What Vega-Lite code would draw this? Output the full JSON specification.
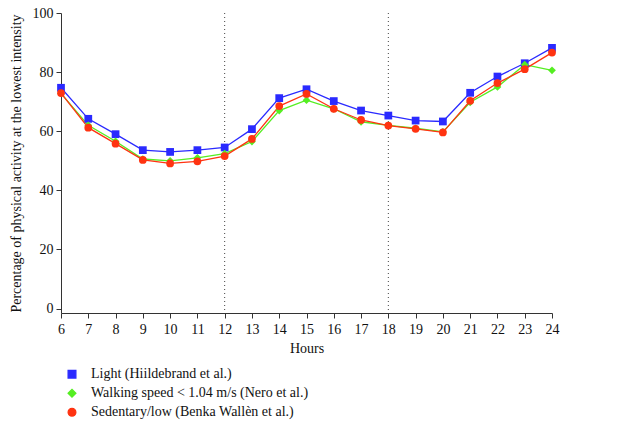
{
  "$schema": "https://vega.github.io/schema/vega-lite/v6.json",
  "width": 491,
  "height": 300,
  "autosize": {"type": "none"},
  "padding": {"left": 61, "top": 13, "right": 90, "bottom": 112},
  "background": "white",
  "config": {
    "view": {"stroke": null},
    "font": "Liberation Serif",
    "axis": {"grid": false, "domainColor": "#333", "tickColor": "#333", "labelColor": "#111", "titleColor": "#111", "labelFont": "Liberation Serif", "titleFont": "Liberation Serif", "labelFontSize": 14, "titleFontSize": 14, "titleFontWeight": "normal", "tickSize": 5, "domainWidth": 1, "tickWidth": 1, "labelOverlap": false, "labelFlush": false}
  },
  "datasets": {
    "pts": [
      {"hour": 6, "series": "Light (Hiildebrand et al.)", "pct": 74.7},
      {"hour": 7, "series": "Light (Hiildebrand et al.)", "pct": 64.2},
      {"hour": 8, "series": "Light (Hiildebrand et al.)", "pct": 59.0},
      {"hour": 9, "series": "Light (Hiildebrand et al.)", "pct": 53.6},
      {"hour": 10, "series": "Light (Hiildebrand et al.)", "pct": 53.0},
      {"hour": 11, "series": "Light (Hiildebrand et al.)", "pct": 53.6},
      {"hour": 12, "series": "Light (Hiildebrand et al.)", "pct": 54.5},
      {"hour": 13, "series": "Light (Hiildebrand et al.)", "pct": 60.7},
      {"hour": 14, "series": "Light (Hiildebrand et al.)", "pct": 71.2},
      {"hour": 15, "series": "Light (Hiildebrand et al.)", "pct": 74.2},
      {"hour": 16, "series": "Light (Hiildebrand et al.)", "pct": 70.2},
      {"hour": 17, "series": "Light (Hiildebrand et al.)", "pct": 67.0},
      {"hour": 18, "series": "Light (Hiildebrand et al.)", "pct": 65.3},
      {"hour": 19, "series": "Light (Hiildebrand et al.)", "pct": 63.6},
      {"hour": 20, "series": "Light (Hiildebrand et al.)", "pct": 63.3},
      {"hour": 21, "series": "Light (Hiildebrand et al.)", "pct": 73.0},
      {"hour": 22, "series": "Light (Hiildebrand et al.)", "pct": 78.5},
      {"hour": 23, "series": "Light (Hiildebrand et al.)", "pct": 83.0},
      {"hour": 24, "series": "Light (Hiildebrand et al.)", "pct": 88.2},
      {"hour": 6, "series": "Walking speed < 1.04 m/s (Nero et al.)", "pct": 72.8},
      {"hour": 7, "series": "Walking speed < 1.04 m/s (Nero et al.)", "pct": 62.0},
      {"hour": 8, "series": "Walking speed < 1.04 m/s (Nero et al.)", "pct": 56.6},
      {"hour": 9, "series": "Walking speed < 1.04 m/s (Nero et al.)", "pct": 50.6},
      {"hour": 10, "series": "Walking speed < 1.04 m/s (Nero et al.)", "pct": 50.0},
      {"hour": 11, "series": "Walking speed < 1.04 m/s (Nero et al.)", "pct": 51.0},
      {"hour": 12, "series": "Walking speed < 1.04 m/s (Nero et al.)", "pct": 52.4},
      {"hour": 13, "series": "Walking speed < 1.04 m/s (Nero et al.)", "pct": 56.5},
      {"hour": 14, "series": "Walking speed < 1.04 m/s (Nero et al.)", "pct": 67.0},
      {"hour": 15, "series": "Walking speed < 1.04 m/s (Nero et al.)", "pct": 70.5},
      {"hour": 16, "series": "Walking speed < 1.04 m/s (Nero et al.)", "pct": 67.6},
      {"hour": 17, "series": "Walking speed < 1.04 m/s (Nero et al.)", "pct": 63.2},
      {"hour": 18, "series": "Walking speed < 1.04 m/s (Nero et al.)", "pct": 62.0},
      {"hour": 19, "series": "Walking speed < 1.04 m/s (Nero et al.)", "pct": 61.0},
      {"hour": 20, "series": "Walking speed < 1.04 m/s (Nero et al.)", "pct": 59.8},
      {"hour": 21, "series": "Walking speed < 1.04 m/s (Nero et al.)", "pct": 69.8},
      {"hour": 22, "series": "Walking speed < 1.04 m/s (Nero et al.)", "pct": 75.0},
      {"hour": 23, "series": "Walking speed < 1.04 m/s (Nero et al.)", "pct": 82.5},
      {"hour": 24, "series": "Walking speed < 1.04 m/s (Nero et al.)", "pct": 80.6},
      {"hour": 6, "series": "Sedentary/low (Benka Wallèn et al.)", "pct": 72.9},
      {"hour": 7, "series": "Sedentary/low (Benka Wallèn et al.)", "pct": 61.2},
      {"hour": 8, "series": "Sedentary/low (Benka Wallèn et al.)", "pct": 55.8},
      {"hour": 9, "series": "Sedentary/low (Benka Wallèn et al.)", "pct": 50.3},
      {"hour": 10, "series": "Sedentary/low (Benka Wallèn et al.)", "pct": 49.1},
      {"hour": 11, "series": "Sedentary/low (Benka Wallèn et al.)", "pct": 49.8},
      {"hour": 12, "series": "Sedentary/low (Benka Wallèn et al.)", "pct": 51.6},
      {"hour": 13, "series": "Sedentary/low (Benka Wallèn et al.)", "pct": 57.4},
      {"hour": 14, "series": "Sedentary/low (Benka Wallèn et al.)", "pct": 68.5},
      {"hour": 15, "series": "Sedentary/low (Benka Wallèn et al.)", "pct": 72.6},
      {"hour": 16, "series": "Sedentary/low (Benka Wallèn et al.)", "pct": 67.6},
      {"hour": 17, "series": "Sedentary/low (Benka Wallèn et al.)", "pct": 63.8},
      {"hour": 18, "series": "Sedentary/low (Benka Wallèn et al.)", "pct": 61.9},
      {"hour": 19, "series": "Sedentary/low (Benka Wallèn et al.)", "pct": 60.8},
      {"hour": 20, "series": "Sedentary/low (Benka Wallèn et al.)", "pct": 59.6},
      {"hour": 21, "series": "Sedentary/low (Benka Wallèn et al.)", "pct": 70.3},
      {"hour": 22, "series": "Sedentary/low (Benka Wallèn et al.)", "pct": 76.3},
      {"hour": 23, "series": "Sedentary/low (Benka Wallèn et al.)", "pct": 81.0},
      {"hour": 24, "series": "Sedentary/low (Benka Wallèn et al.)", "pct": 86.6}
    ],
    "marks": [{"hour": 12}, {"hour": 18}]
  },
  "layer": [
    {
      "data": {"name": "marks"},
      "mark": {"type": "rule", "color": "#444", "strokeDash": [1, 3], "strokeWidth": 1},
      "encoding": {
        "x": {"field": "hour", "type": "quantitative", "scale": {"domain": [6, 24], "nice": false, "zero": false},
          "axis": {"values": [6,7,8,9,10,11,12,13,14,15,16,17,18,19,20,21,22,23,24], "labelOverlap": false, "title": "Hours", "titlePadding": 5, "labelPadding": 4}}
      }
    },
    {
      "data": {"name": "pts"},
      "mark": {"type": "line", "strokeWidth": 1.3},
      "encoding": {
        "x": {"field": "hour", "type": "quantitative", "scale": {"domain": [6, 24], "nice": false, "zero": false},
          "axis": {"values": [6,7,8,9,10,11,12,13,14,15,16,17,18,19,20,21,22,23,24], "labelOverlap": false, "title": "Hours", "titlePadding": 5, "labelPadding": 4}},
        "y": {"field": "pct", "type": "quantitative", "scale": {"domain": [-1.5, 100], "nice": false},
          "axis": {"values": [0, 20, 40, 60, 80, 100], "title": "Percentage of physical activity at the lowest intensity", "titlePadding": 9, "labelPadding": 3}},
        "color": {"field": "series", "type": "nominal",
          "scale": {"domain": ["Light (Hiildebrand et al.)", "Walking speed < 1.04 m/s (Nero et al.)", "Sedentary/low (Benka Wallèn et al.)"], "range": ["#2a2aff", "#55ee22", "#ff3311"]}},
        "detail": {"field": "series"}
      }
    },
    {
      "data": {"name": "pts"},
      "mark": {"type": "point", "filled": true, "opacity": 1},
      "encoding": {
        "x": {"field": "hour", "type": "quantitative",
          "axis": {"values": [6,7,8,9,10,11,12,13,14,15,16,17,18,19,20,21,22,23,24], "labelOverlap": false, "title": "Hours", "titlePadding": 5, "labelPadding": 4}},
        "y": {"field": "pct", "type": "quantitative"},
        "color": {"field": "series", "type": "nominal",
          "scale": {"domain": ["Light (Hiildebrand et al.)", "Walking speed < 1.04 m/s (Nero et al.)", "Sedentary/low (Benka Wallèn et al.)"], "range": ["#2a2aff", "#55ee22", "#ff3311"]},
          "legend": {
            "title": null, "orient": "none", "legendX": -4, "legendY": 352,
            "labelFont": "Liberation Serif", "labelFontSize": 14, "labelColor": "#111", "labelLimit": 500,
            "symbolSize": 60, "clipHeight": 18.5, "rowPadding": 0, "labelOffset": 12, "symbolOffset": 8, "symbolStrokeWidth": 1.3
          }},
        "shape": {"field": "series", "type": "nominal", "legend": null,
          "scale": {"domain": ["Light (Hiildebrand et al.)", "Walking speed < 1.04 m/s (Nero et al.)", "Sedentary/low (Benka Wallèn et al.)"], "range": ["square", "diamond", "circle"]}},
        "size": {"value": 60}
      }
    }
  ]
}
